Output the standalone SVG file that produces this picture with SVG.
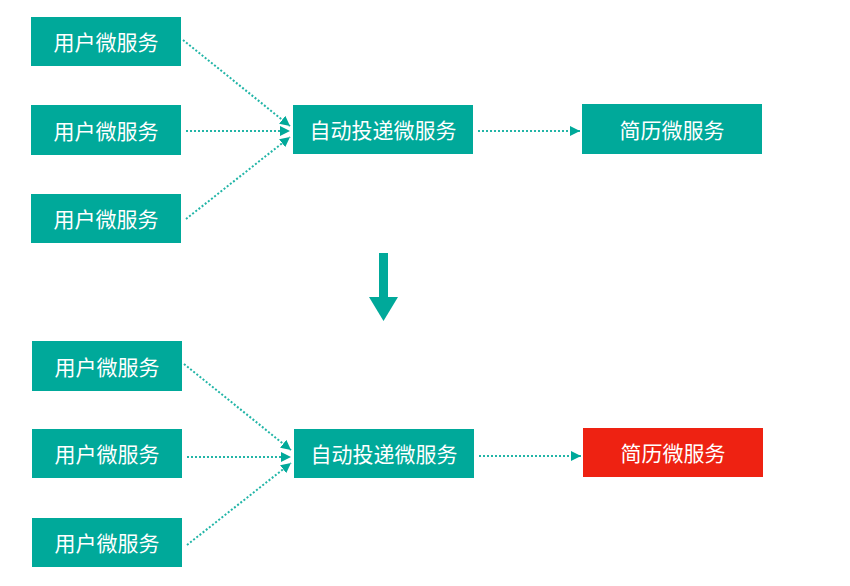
<svg xmlns="http://www.w3.org/2000/svg" width="850" height="586" viewBox="0 0 850 586">
<style>
.box{fill:#00A99A}
.red{fill:#EE2212}
.t{font-family:"Noto Sans CJK SC","Noto Sans",sans-serif;font-size:21px;fill:#fff;text-anchor:middle;dominant-baseline:central}
.c{stroke:#22B5A7;stroke-width:2;stroke-dasharray:2 2;fill:none}
</style>
<defs>
<marker id="ah" viewBox="0 0 10 10" refX="10" refY="5" markerWidth="5" markerHeight="5" orient="auto" markerUnits="strokeWidth">
<path d="M0,0 L10,5 L0,10 z" fill="#00A99A"/>
</marker>
</defs>
<rect width="850" height="586" fill="#fff"/>
<g id="u1"><rect class="box" x="31" y="17" width="150" height="49"/><text class="t" x="106" y="41">用户微服务</text></g>
<g id="u2"><rect class="box" x="31" y="105" width="150" height="50"/><text class="t" x="106" y="129.5">用户微服务</text></g>
<g id="u3"><rect class="box" x="31" y="194" width="150" height="49"/><text class="t" x="106" y="218">用户微服务</text></g>
<g id="auto1"><rect class="box" x="293" y="105" width="180" height="49"/><text class="t" x="383" y="129">自动投递微服务</text></g>
<g id="res1"><rect class="box" x="582" y="104" width="180" height="50"/><text class="t" x="672" y="128.5">简历微服务</text></g>
<g id="u4"><rect class="box" x="32" y="341" width="150" height="50"/><text class="t" x="107" y="365.5">用户微服务</text></g>
<g id="u5"><rect class="box" x="32" y="429" width="150" height="49"/><text class="t" x="107" y="453">用户微服务</text></g>
<g id="u6"><rect class="box" x="32" y="518" width="150" height="49"/><text class="t" x="107" y="542">用户微服务</text></g>
<g id="auto2"><rect class="box" x="294" y="429" width="180" height="49"/><text class="t" x="384" y="453">自动投递微服务</text></g>
<g id="res2"><rect class="red" x="583" y="428" width="180" height="49"/><text class="t" x="673" y="452">简历微服务</text></g>
<g id="bigarrow"><rect x="379" y="253" width="9" height="46" fill="#00A99A"/><path d="M369,297 L398,297 L383.5,321 z" fill="#00A99A"/></g>
<g id="connectors">
<path class="c" d="M183,40 L290,126" marker-end="url(#ah)"/>
<path class="c" d="M186,131 L290,131" marker-end="url(#ah)"/>
<path class="c" d="M186,219 L290,137" marker-end="url(#ah)"/>
<path class="c" d="M478,131 L580,131" marker-end="url(#ah)"/>
<path class="c" d="M184,364 L291,450" marker-end="url(#ah)"/>
<path class="c" d="M187,457 L291,457" marker-end="url(#ah)"/>
<path class="c" d="M187,545 L291,463" marker-end="url(#ah)"/>
<path class="c" d="M479,456 L581,456" marker-end="url(#ah)"/>
</g>
</svg>
